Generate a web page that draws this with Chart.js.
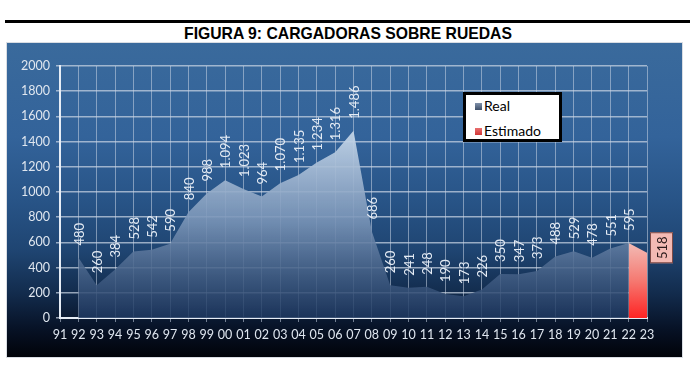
<!DOCTYPE html>
<html><head><meta charset="utf-8">
<script src="https://cdn.jsdelivr.net/npm/chart.js@4.4.1/dist/chart.umd.min.js"></script>
<style>
html,body{margin:0;padding:0;background:#fff;width:696px;height:369px;overflow:hidden;}
#rule{position:absolute;left:5px;top:20px;width:685px;height:3px;background:#000;}
#title{position:absolute;left:0;top:24px;width:696px;text-align:center;font:bold 17px "Liberation Sans Narrow","Arial Narrow","Liberation Sans",sans-serif;color:#000;line-height:20px;transform:scaleX(0.925);transform-origin:348px 0;}
#panel{position:absolute;left:7px;top:43px;width:675px;height:314px;
 background:linear-gradient(to bottom,#3a6a9c 0%,#33639a 30%,#285487 50%,#1f4572 66%,#122b4c 80%,#071226 91%,#010309 100%);
 box-shadow:0 0 0 1px #d9dde3;}
#c{position:absolute;left:0;top:0;}
#legend{position:absolute;left:463px;top:92px;width:93px;height:44px;border:3px solid #000;background:#fff;font:14px Lato,"Open Sans",sans-serif;color:#000;}
.it{position:absolute;left:18px;height:16px;line-height:16px;}
.sw{position:absolute;left:-9px;top:5px;width:7px;height:7px;}
</style></head>
<body>
<div id="rule"></div>
<div id="title">FIGURA 9: CARGADORAS SOBRE RUEDAS</div>
<div id="panel"><canvas id="c" width="675" height="314"></canvas>
</div>
<div id="legend">
 <div class="it" style="top:3px"><span class="sw" style="background:linear-gradient(#8091aa,#3e4f69)"></span>Real</div>
 <div class="it" style="top:28px"><span class="sw" style="background:linear-gradient(#e87070,#d03535)"></span>Estimado</div>
</div>
<script>
const years = ['91','92','93','94','95','96','97','98','99','00','01','02','03','04','05','06','07','08','09','10','11','12','13','14','15','16','17','18','19','20','21','22','23'];
const real = [null,480,260,384,528,542,590,840,988,1094,1023,964,1070,1135,1234,1316,1486,686,260,241,248,190,173,226,350,347,373,488,529,478,551,595,null];
const estimado = [null,null,null,null,null,null,null,null,null,null,null,null,null,null,null,null,null,null,null,null,null,null,null,null,null,null,null,null,null,null,null,595,518];
const yTicks = [0,200,400,600,800,1000,1200,1400,1600,1800,2000];

function fmt(v){ return v>=1000 ? Math.floor(v/1000)+'.'+String(v%1000).padStart(3,'0') : String(v); }

function realGrad(context){
  const {chart}=context; const {ctx,chartArea}=chart;
  if(!chartArea) return 'rgba(150,175,205,0.9)';
  const g=ctx.createLinearGradient(0,chartArea.top,0,chartArea.bottom);
  g.addColorStop(0,'rgba(225,235,246,0.95)');
  g.addColorStop(0.3,'rgba(190,208,228,0.93)');
  g.addColorStop(0.6,'rgba(126,152,186,0.9)');
  g.addColorStop(0.8,'rgba(74,102,140,0.88)');
  g.addColorStop(1,'rgba(30,56,96,0.85)');
  return g;
}
function estGrad(context){
  const {chart}=context; const {ctx,chartArea}=chart;
  if(!chartArea) return '#f05050';
  const y=chart.scales.y;
  const g=ctx.createLinearGradient(0,y.getPixelForValue(600),0,chartArea.bottom);
  g.addColorStop(0,'#f2bcb6');
  g.addColorStop(0.5,'#f57a72');
  g.addColorStop(1,'#ff2424');
  return g;
}

const labelPlugin={
  id:'vlabels',
  afterDatasetsDraw(chart){
    const ctx=chart.ctx;
    const meta=chart.getDatasetMeta(0);
    ctx.save();
    ctx.font='13px Lato, "Open Sans", sans-serif';
    ctx.fillStyle='#e4ebf4';
    ctx.textAlign='left'; ctx.textBaseline='middle';
    meta.data.forEach((pt,i)=>{
      const v=real[i]; if(v==null) return;
      ctx.save(); ctx.translate(pt.x+1,pt.y-12); ctx.rotate(-Math.PI/2);
      ctx.fillText(fmt(v),0,0); ctx.restore();
    });
    const m2=chart.getDatasetMeta(1);
    const last=estimado.length-1;
    const p=m2.data[last];
    const bx=p.x+3, bw=23, bh=31, by=p.y-5-bh/2;
    ctx.fillStyle='#f3bab4'; ctx.fillRect(bx,by,bw,bh);
    ctx.strokeStyle='#7d4a46'; ctx.lineWidth=1; ctx.strokeRect(bx+0.5,by+0.5,bw-1,bh-1);
    ctx.fillStyle='#2a1a1a';
    ctx.textAlign='center';
    ctx.save(); ctx.translate(bx+bw/2+1,by+bh/2); ctx.rotate(-Math.PI/2);
    ctx.fillText(fmt(estimado[last]),0,0); ctx.restore();
    ctx.restore();
  }
};

new Chart(document.getElementById('c'),{
  type:'line',
  data:{labels:years,datasets:[
    {label:'Real',data:real,fill:'origin',backgroundColor:realGrad,borderWidth:0,pointRadius:0,tension:0},
    {label:'Estimado',data:estimado,fill:'origin',backgroundColor:estGrad,borderWidth:0,pointRadius:0,tension:0}
  ]},
  options:{
    responsive:false,animation:false,
    layout:{padding:{top:23,right:35,left:0,bottom:0}},
    plugins:{legend:{display:false},tooltip:{enabled:false}},
    scales:{
      x:{
        grid:{color:'rgba(200,212,228,0.55)',lineWidth:1,tickLength:4},
        border:{color:'#e6edf6',width:2},
        ticks:{color:'#dfe6ef',font:{family:'Lato',size:12.5},padding:5,maxRotation:0,autoSkip:false},
        afterFit(s){s.height=39;}
      },
      y:{
        min:0,max:2000,
        afterBuildTicks(s){s.ticks=yTicks.map(v=>({value:v}));},
        grid:{color:'rgba(205,215,230,0.7)',lineWidth:1.5,tickLength:4},
        border:{color:'#e6edf6',width:2},
        ticks:{color:'#dfe6ef',font:{family:'Lato',size:12.5},padding:6,callback:(v)=>String(v)},
        afterFit(s){s.width=53;}
      }
    }
  },
  plugins:[labelPlugin]
});
</script>
</body></html>
